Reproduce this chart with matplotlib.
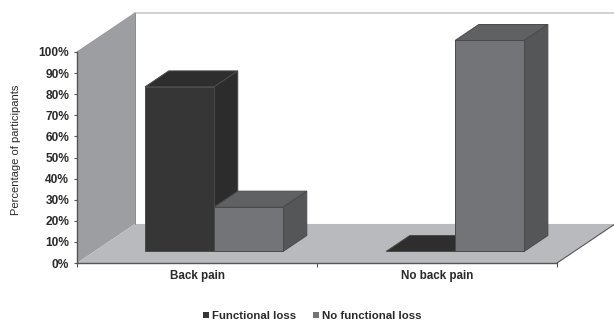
import matplotlib
matplotlib.use("Agg")
import matplotlib.pyplot as plt
from matplotlib.patches import Polygon, Patch

plt.rcParams['font.family'] = ['Liberation Sans', 'DejaVu Sans']

categories = ['Back pain', 'No back pain']
series_names = ['Functional loss', 'No functional loss']
functional_loss = [78, 0]
no_functional_loss = [21, 100]
yticks = list(range(0, 101, 10))

front_cols = ['#363637', '#737477']
side_cols = ['#2c2c2d', '#555658']
top_cols = ['#2e2e2f', '#606163']

# oblique look: depth 0 is the front of the floor, 1 is the back wall
skew_x = 0.2417
skew_y = 18.5
bar_w = 0.2875
d_front = 0.295
d_back = 0.705
group_start = [0.212, 1.2165]


def pt(x, y, d):
    return (x + skew_x * d, y + skew_y * d)


def face(ax, pts, col, ec='#4a4a4c', lw=0.7, z=3):
    ax.add_patch(Polygon(pts, closed=True, fc=col, ec=ec, lw=lw, zorder=z, clip_on=False))


def bar3d(ax, x0, val, i, z):
    x1 = x0 + bar_w
    # top, side, front
    face(ax, [pt(x0, val, d_front), pt(x1, val, d_front), pt(x1, val, d_back), pt(x0, val, d_back)], top_cols[i], z=z)
    if val > 0:
        face(ax, [pt(x1, 0, d_front), pt(x1, val, d_front), pt(x1, val, d_back), pt(x1, 0, d_back)], side_cols[i], z=z)
        face(ax, [pt(x0, 0, d_front), pt(x1, 0, d_front), pt(x1, val, d_front), pt(x0, val, d_front)], front_cols[i], z=z)


fig = plt.figure(figsize=(6.14, 3.23), dpi=100)
ax = fig.add_axes([77 / 614, 60 / 323, 480 / 614, 211 / 323])
ax.set_xlim(0, 2)
ax.set_ylim(0, 100)
ax.patch.set_visible(False)

# walls and floor
face(ax, [pt(0, 0, 0), pt(0, 100, 0), pt(0, 100, 1), pt(0, 0, 1)], '#9d9ea1', ec='none', z=1)
face(ax, [pt(0, 0, 0), pt(2, 0, 0), pt(2, 0, 1), pt(0, 0, 1)], '#b9babd', ec='none', z=1)
ax.plot(*zip(pt(0, 100, 1), pt(2, 100, 1)), color='#c4c4c6', lw=1.1, clip_on=False, zorder=1)
ax.plot(*zip(pt(0, 100, 1), pt(0, 0, 1)), color='#8c8c8f', lw=0.7, clip_on=False, zorder=1)
ax.plot(*zip(pt(0, 100, 0), pt(0, 100, 1)), color='#9a9a9c', lw=0.7, clip_on=False, zorder=1)
ax.plot(*zip(pt(2, 0, 0), pt(2, 0, 1)), color='#555555', lw=0.8, clip_on=False, zorder=2)

for g in range(2):
    z = 3 + g * 2
    bar3d(ax, group_start[g], functional_loss[g], 0, z)
    bar3d(ax, group_start[g] + bar_w, no_functional_loss[g], 1, z + 1)

for s in ['top', 'right']:
    ax.spines[s].set_visible(False)
for s in ['left', 'bottom']:
    ax.spines[s].set_color('#555557')
    ax.spines[s].set_linewidth(1.0)
    ax.spines[s].set_zorder(2)

ax.set_yticks(yticks)
ax.set_yticklabels([f'{v}%' for v in yticks], fontsize=8.6, fontweight='bold', color='#2a2a2a')
ax.set_xticks([0, 1, 2])
ax.set_xticklabels([])
ax.set_xticks([0.5, 1.5], minor=True)
ax.set_xticklabels(categories, minor=True, fontsize=8.4, fontweight='bold', color='#2a2a2a')
ax.tick_params(axis='x', which='minor', length=0, pad=5)
ax.tick_params(axis='x', which='major', length=3, width=0.8, color='#555557')
ax.tick_params(axis='y', length=2, width=0.8, color='#555557', pad=3.5)
ax.set_ylabel('Percentage of participants', fontsize=8, color='#2a2a2a')
ax.yaxis.set_label_coords(-56 / 480, 113 / 211)

handles = [Patch(fc=front_cols[0], ec='none'), Patch(fc=front_cols[1], ec='none')]
fig.legend(handles, series_names, loc='center', bbox_to_anchor=(312 / 614, 1 - 316 / 323), ncol=2, frameon=False,
           prop={'size': 8.2, 'weight': 'bold'}, labelcolor='#2a2a2a', handlelength=0.55, handleheight=0.55,
           handletextpad=0.25, columnspacing=1.5, borderpad=0)

fig.savefig('out.png', dpi=100)
